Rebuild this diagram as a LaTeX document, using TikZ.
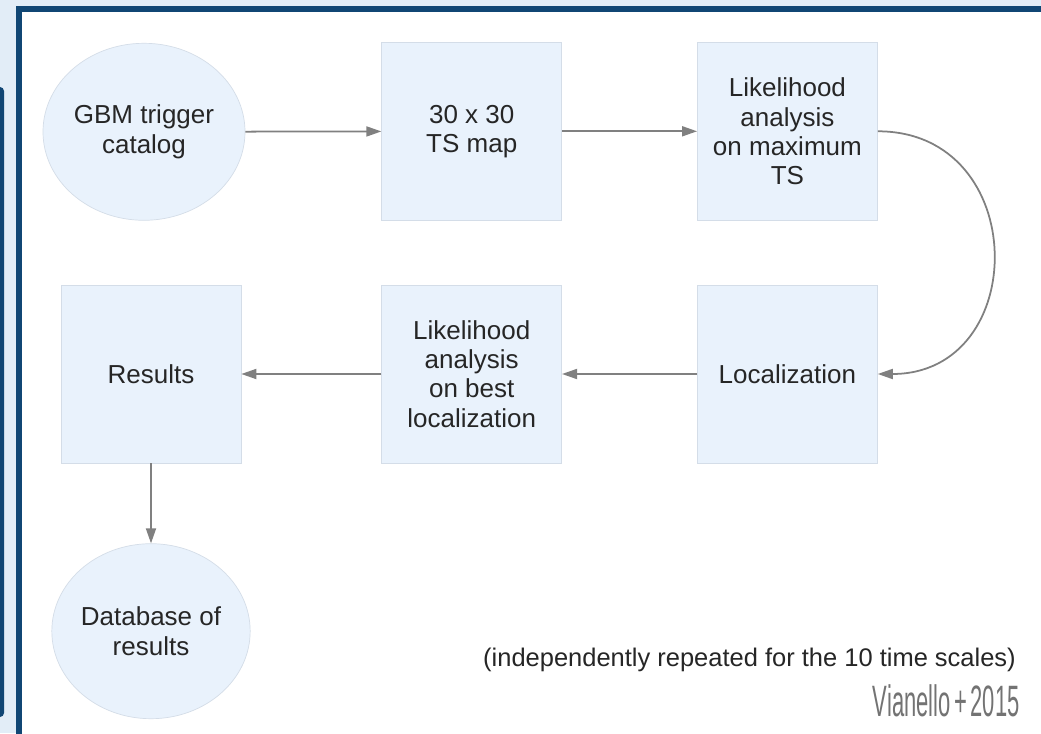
\documentclass[tikz,border=0pt]{standalone}
\usepackage{fontspec}
\setmainfont{Liberation Sans}
\usepackage{xcolor}
\usetikzlibrary{shapes.geometric, arrows.meta, positioning}
\definecolor{framedark}{RGB}{16,70,116}
\definecolor{slidebg}{RGB}{226,237,247}
\definecolor{boxfill}{RGB}{233,242,252}
\definecolor{boxline}{RGB}{212,221,232}
\definecolor{textgray}{RGB}{38,38,38}
\tikzstyle{stage} = [rectangle, minimum width=3.6cm, minimum height=3.56cm, text centered, align=center, draw=boxline, fill=boxfill, text=textgray, font=\fontsize{14.8}{16.6}\selectfont]
\tikzstyle{store} = [ellipse, inner sep=0pt, text centered, align=center, draw=boxline, fill=boxfill, text=textgray, font=\fontsize{14.8}{16.6}\selectfont]
\tikzstyle{arrow} = [line width=1pt, draw=black!50, -{Triangle[length=0.3cm,width=0.2cm]}]

\begin{document}
\begin{tikzpicture}[node distance=1.28cm and 2.8cm]

% Slide background and frames
\useasboundingbox (0,0) rectangle (20.82,14.66);
\begin{scope}
\clip (0,0) rectangle (20.82,14.66);
\fill [slidebg] (0,0) rectangle (20.82,14.66);
\fill [framedark, rounded corners=0.08cm] (-0.4,0.32) rectangle (0.08,12.92);
\draw [framedark, line width=0.12cm, fill=white] (0.38,-1) rectangle (22,14.48);
\end{scope}

% Bottom row
\node (results) [stage] at (3.02,7.18) {Results};
\node (best) [stage, right=of results] {Likelihood\\analysis\\on best\\localization};
\node (localization) [stage, right=of best, xshift=-0.1cm] {Localization};

% Top row
\node (gbm) [store, minimum width=4.04cm, minimum height=3.54cm, above=of results, xshift=-0.14cm] {GBM trigger\\catalog};
\node (tsmap) [stage, above=of best] {30 x 30\\TS map};
\node (likelihood) [stage, above=of localization] {Likelihood\\analysis\\on maximum\\TS};

% Output
\node (database) [store, minimum width=3.94cm, minimum height=3.5cm, below=1.6cm of results] {Database of\\results};

% Notes
\node (note) [anchor=east, text=textgray, font=\fontsize{14.5}{16.6}\selectfont] at (20.44,1.46) {(independently repeated for the 10 time scales)};
\node (credit) [anchor=base east, inner sep=0pt, text=black!55, font=\fontsize{25}{28}\selectfont] at (20.4,0.34) {\scalebox{0.5}[1]{Vianello\,+\,2015}};

% Arrows
\draw [arrow] (gbm) -- (tsmap);
\draw [arrow] (tsmap) -- (likelihood);
\draw [arrow] (likelihood.east) .. controls +(3.07,0) and +(3.07,0) .. (localization.east);
\draw [arrow] (localization) -- (best);
\draw [arrow] (best) -- (results);
\draw [arrow] (results) -- (database);

\end{tikzpicture}
\end{document}
